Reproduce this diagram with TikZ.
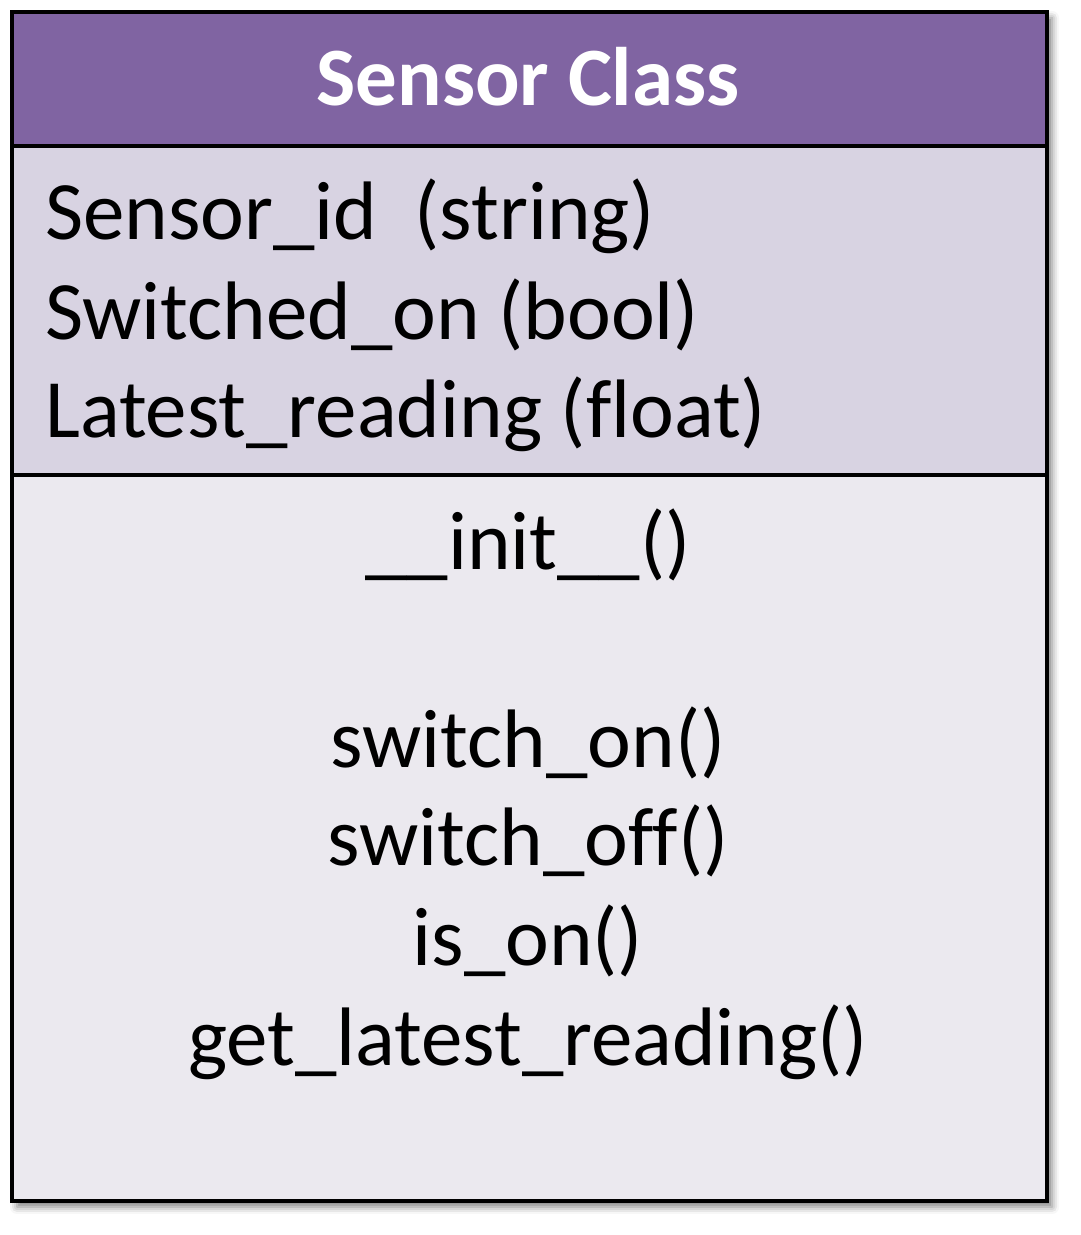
\documentclass[tikz,border=0pt]{standalone}
\usepackage{fontspec}
\setmainfont[Ligatures=NoCommon]{Carlito}
\usetikzlibrary{shadows.blur}
\definecolor{hdr}{HTML}{8064A2}
\definecolor{attr}{HTML}{D8D3E2}
\definecolor{meth}{HTML}{EBE9EF}
\tikzset{
  txt/.style={inner sep=0pt, anchor=base, font=\fontsize{83}{99}\selectfont, text=black},
  ltxt/.style={txt, anchor=base west},
  ttl/.style={inner sep=0pt, anchor=base, font=\fontsize{83}{99}\selectfont\bfseries, text=white},
  frame/.style={draw=black, line width=4pt}
}
\begin{document}
\begin{tikzpicture}[x=1pt,y=1pt]
\useasboundingbox (0,0) rectangle (1080,1235);
% shadow + sections
\fill[white, blur shadow={shadow xshift=5pt, shadow yshift=-6pt, shadow blur radius=7pt, shadow opacity=50}] (12,34) rectangle (1047,1223);
\fill[hdr] (12,1089) rectangle (1047,1223);
\fill[attr] (12,760) rectangle (1047,1089);
\fill[meth] (12,34) rectangle (1047,760);
\draw[frame] (12,1089) -- (1047,1089);
\draw[frame] (12,760) -- (1047,760);
\draw[frame] (12,34) rectangle (1047,1223);
% title
\node[ttl] (title) at (528,1129) {Sensor Class};
% attributes
\node[ltxt] (a1) at (45,995) {Sensor\_id~ (string)};
\node[ltxt] (a2) at (45,895) {Switched\_on (bool)};
\node[ltxt] (a3) at (45,797) {Latest\_reading (float)};
% methods
\node[txt] (m1) at (528,665) {\_\_init\_\_()};
\node[txt] (m2) at (528,467) {switch\_on()};
\node[txt] (m3) at (528,369) {switch\_off()};
\node[txt] (m4) at (528,269) {is\_on()};
\node[txt] (m5) at (528,169) {get\_latest\_reading()};
\end{tikzpicture}
\end{document}
